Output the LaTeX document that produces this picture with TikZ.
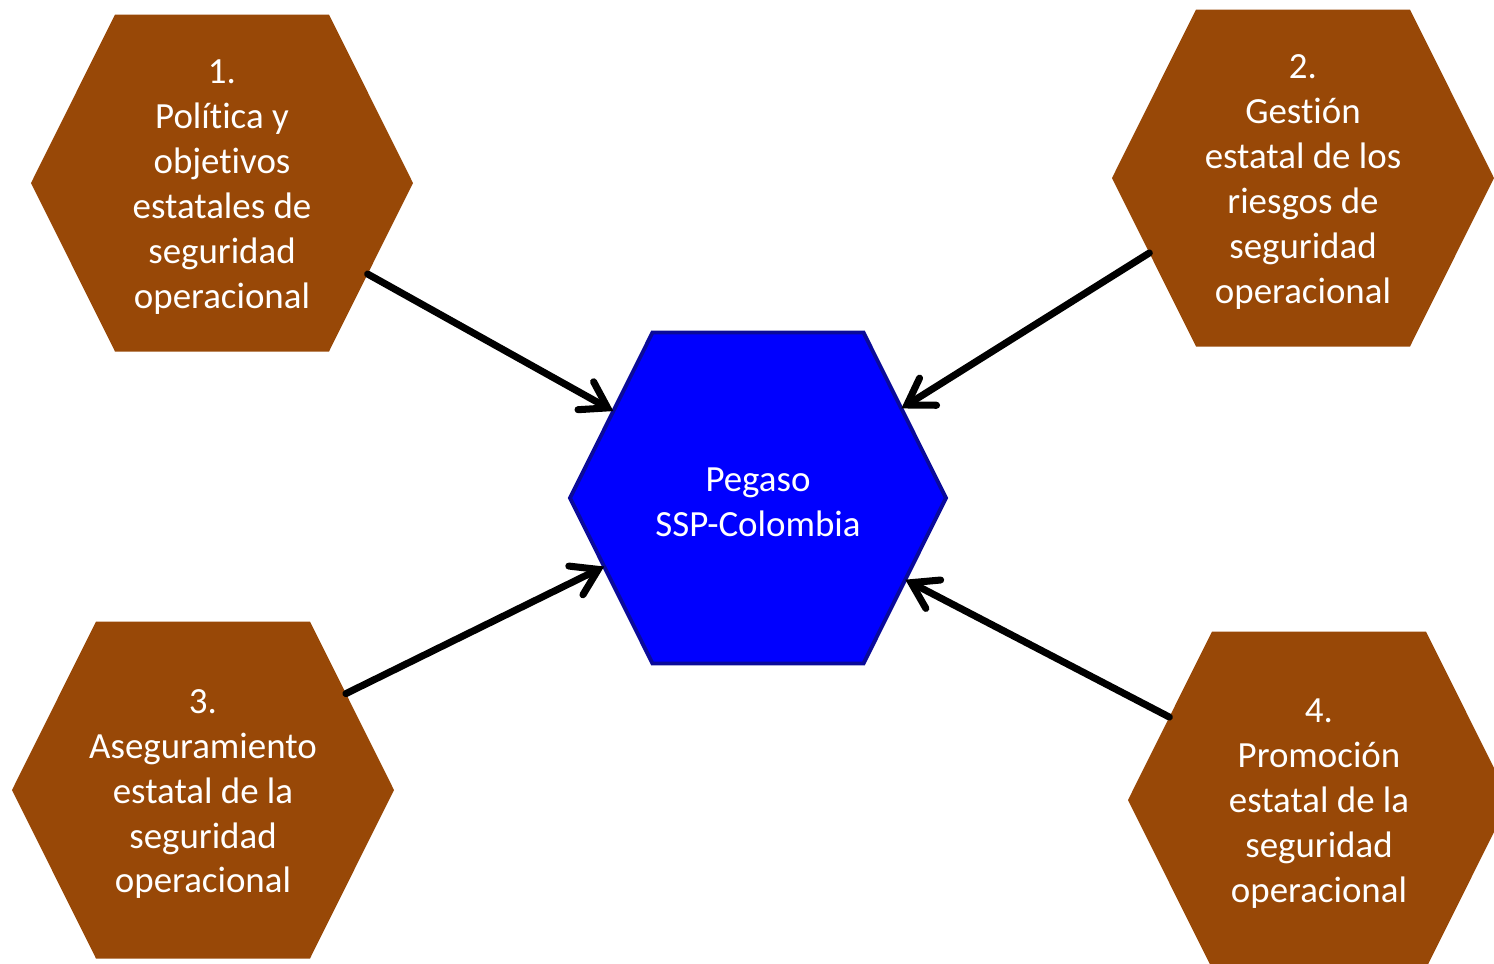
\documentclass[tikz,border=0pt]{standalone}
\usepackage{fontspec}
\setmainfont[Ligatures=NoCommon]{Carlito}
\usetikzlibrary{shapes.symbols,arrows.meta}
\definecolor{hexbrown}{HTML}{984807}
\definecolor{hexblue}{HTML}{0000FF}
\definecolor{hexedge}{HTML}{0A0A9A}

\begin{document}
\begin{tikzpicture}[hexa/.style={signal, signal to=west and east, signal pointer angle=127, minimum width=3.82cm, minimum height=3.37cm, inner sep=0pt, outer sep=0pt, fill=hexbrown},txt/.style={text=white, align=center, inner sep=0pt, yshift=-0.04cm, font=\fontsize{10.5}{12.8}\selectfont},link/.style={line width=2pt, line cap=round, -{Straight Barb[length=2.5mm, width=3.2mm, line cap=round]}}] %
    \useasboundingbox (0,0) rectangle (14.94,-9.63) ; %
    \clip (0,0) rectangle (14.94,-9.63) ; %
    \node[hexa, fill=hexblue, draw=hexedge, line width=1.1pt, minimum width=3.76cm, minimum height=3.31cm, label={[txt]center:Pegaso\\SSP-Colombia}] (pc) at (7.58,-4.98) {} ; %
    \node[hexa, label={[txt]center:1.\\Política y\\objetivos\\estatales de\\seguridad\\operacional}] (pol) at (2.22,-1.83) {} ; %
    \node[hexa, label={[txt]center:2.\\Gestión\\estatal de los\\riesgos de\\seguridad\\operacional}] (ges) at (13.03,-1.78) {} ; %
    \node[hexa, label={[txt]center:3.\\Aseguramiento\\estatal de la\\seguridad\\operacional}] (ase) at (2.03,-7.90) {} ; %
    \node[hexa, label={[txt]center:4.\\Promoción\\estatal de la\\seguridad\\operacional}] (pro) at (13.19,-8.00) {} ; %
    \draw[link] (pol.-32)--(pc.149) ; %
    \draw[link] (ges.206)--(pc.32) ;
    \draw[link] (ase.34)--(pc.204) ;
    \draw[link] (pro.151)--(pc.-29) ;
  \end{tikzpicture}
\end{document}
